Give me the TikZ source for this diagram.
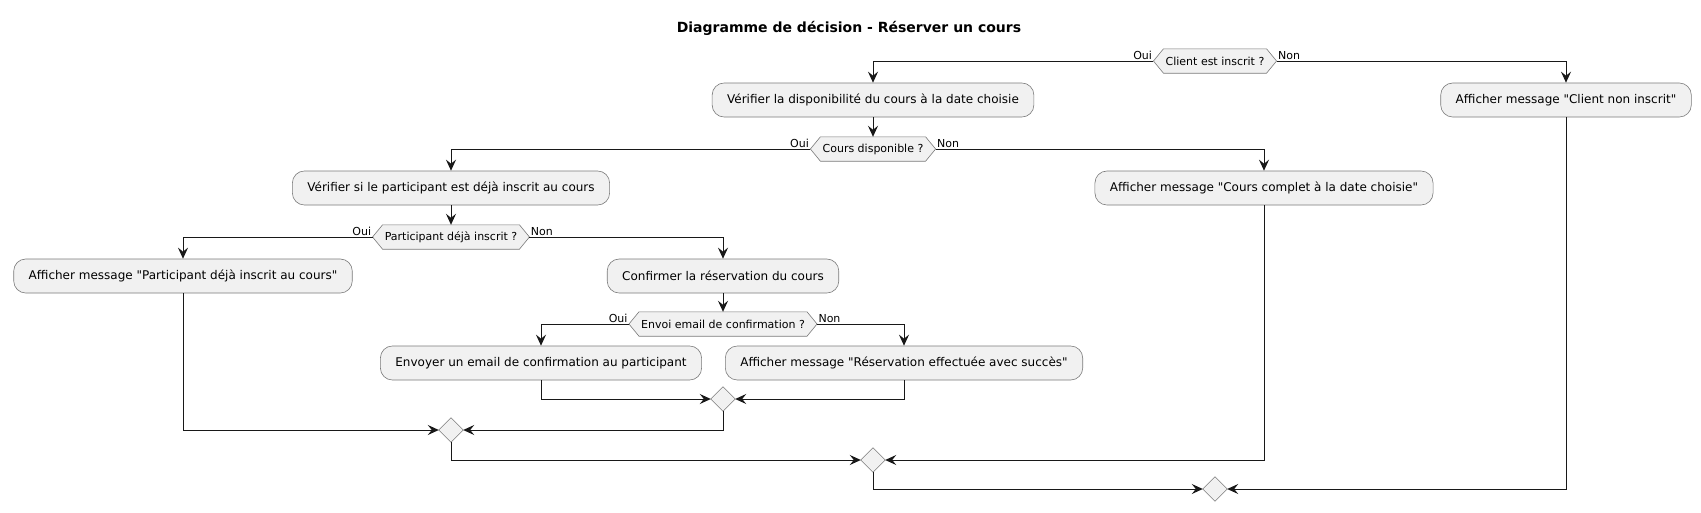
\documentclass[tikz,border=0pt]{standalone}
\usepackage{fontspec}
\setmainfont{DejaVu Sans}[Ligatures=TeXOff]
\usetikzlibrary{arrows.meta}
\definecolor{boxfill}{HTML}{F1F1F1}
\definecolor{boxline}{HTML}{7A7A7A}
\definecolor{linec}{HTML}{181818}
\pgfdeclarelayer{bg}
\pgfsetlayers{bg,main}
\newcommand\hexborder[1]{%
  \draw[boxline, line width=0.6pt, fill=boxfill]
    (#1.west) -- ([xshift=10pt]#1.north west) -- ([xshift=-10pt]#1.north east)
    -- (#1.east) -- ([xshift=-10pt]#1.south east) -- ([xshift=10pt]#1.south west) -- cycle;}
\newcommand\mergeborder[1]{%
  \draw[boxline, line width=0.6pt, fill=boxfill]
    (#1.west) -- (#1.north) -- (#1.east) -- (#1.south) -- cycle;}
\begin{document}
\begin{tikzpicture}[x=1pt,y=-1pt,
  actbox/.style={draw=boxline, line width=0.6pt, fill=boxfill, rounded corners=12pt,
    minimum height=34pt, inner xsep=15pt, inner ysep=0pt,
    font=\fontsize{12}{14}\selectfont, text=black},
  decnode/.style={minimum height=24pt, inner xsep=12pt, inner ysep=0pt,
    font=\fontsize{11}{13}\selectfont, text=black},
  mergenode/.style={minimum width=24pt, minimum height=24pt, inner sep=0pt},
  lbl/.style={font=\fontsize{11}{13}\selectfont, inner sep=1pt, text=black},
  arr/.style={draw=linec, line width=1pt, -{Stealth[length=11pt,width=10pt,inset=4pt]}},
  plain/.style={draw=linec, line width=1pt}
]
\begin{pgfonlayer}{bg}
  \fill[white] (0,0) rectangle (1701,512);
\end{pgfonlayer}
\useasboundingbox (0,0) rectangle (1701,512);

\node[font=\bfseries\fontsize{14}{16}\selectfont] (title) at (849,28) {Diagramme de décision - Réserver un cours};

% decisions
\node[decnode] (client)   at (1215,61)  {Client est inscrit ?};
\node[decnode] (coursdec) at (873,149)  {Cours disponible ?};
\node[decnode] (partdec)  at (451,237)  {Participant déjà inscrit ?};
\node[decnode] (envoidec) at (723,324)  {Envoi email de confirmation ?};
\begin{pgfonlayer}{bg}
  \hexborder{client}
  \hexborder{coursdec}
  \hexborder{partdec}
  \hexborder{envoidec}
\end{pgfonlayer}

% activities
\node[actbox] (vdispo)     at (873,100)  {Vérifier la disponibilité du cours à la date choisie};
\node[actbox] (noninscrit) at (1566,100) {Afficher message "Client non inscrit"};
\node[actbox] (vpart)      at (451,188)  {Vérifier si le participant est déjà inscrit au cours};
\node[actbox] (complet)    at (1264,188) {Afficher message "Cours complet à la date choisie"};
\node[actbox] (pdeja)      at (183,276)  {Afficher message "Participant déjà inscrit au cours"};
\node[actbox] (confirmer)  at (723,276)  {Confirmer la réservation du cours};
\node[actbox] (envoyer)    at (541,363)  {Envoyer un email de confirmation au participant};
\node[actbox] (reserv)     at (904,363)  {Afficher message "Réservation effectuée avec succès"};

% merges
\node[mergenode] (dA) at (723,399) {};
\node[mergenode] (dB) at (451,430) {};
\node[mergenode] (dC) at (873,460) {};
\node[mergenode] (dD) at (1215,489) {};
\mergeborder{dA}
\mergeborder{dB}
\mergeborder{dC}
\mergeborder{dD}

% connectors
\draw[arr] (client.west) -| node[pos=0, lbl, anchor=south east] (l1) {Oui} (vdispo.north);
\draw[arr] (client.east) -| node[pos=0, lbl, anchor=south west] (l2) {Non} (noninscrit.north);
\draw[arr] (vdispo.south) -- (coursdec.north);
\draw[arr] (coursdec.west) -| node[pos=0, lbl, anchor=south east] (l3) {Oui} (vpart.north);
\draw[arr] (coursdec.east) -| node[pos=0, lbl, anchor=south west] (l4) {Non} (complet.north);
\draw[arr] (vpart.south) -- (partdec.north);
\draw[arr] (partdec.west) -| node[pos=0, lbl, anchor=south east] (l5) {Oui} (pdeja.north);
\draw[arr] (partdec.east) -| node[pos=0, lbl, anchor=south west] (l6) {Non} (confirmer.north);
\draw[arr] (confirmer.south) -- (envoidec.north);
\draw[arr] (envoidec.west) -| node[pos=0, lbl, anchor=south east] (l7) {Oui} (envoyer.north);
\draw[arr] (envoidec.east) -| node[pos=0, lbl, anchor=south west] (l8) {Non} (reserv.north);

\draw[arr] (envoyer.south) |- (dA.west);
\draw[arr] (reserv.south) |- (dA.east);
\draw[arr] (pdeja.south) |- (dB.west);
\draw[arr] (dA.south) |- (dB.east);
\draw[arr] (dB.south) |- (dC.west);
\draw[arr] (complet.south) |- (dC.east);
\draw[arr] (dC.south) |- (dD.west);
\draw[arr] (noninscrit.south) |- (dD.east);
\end{tikzpicture}
\end{document}
